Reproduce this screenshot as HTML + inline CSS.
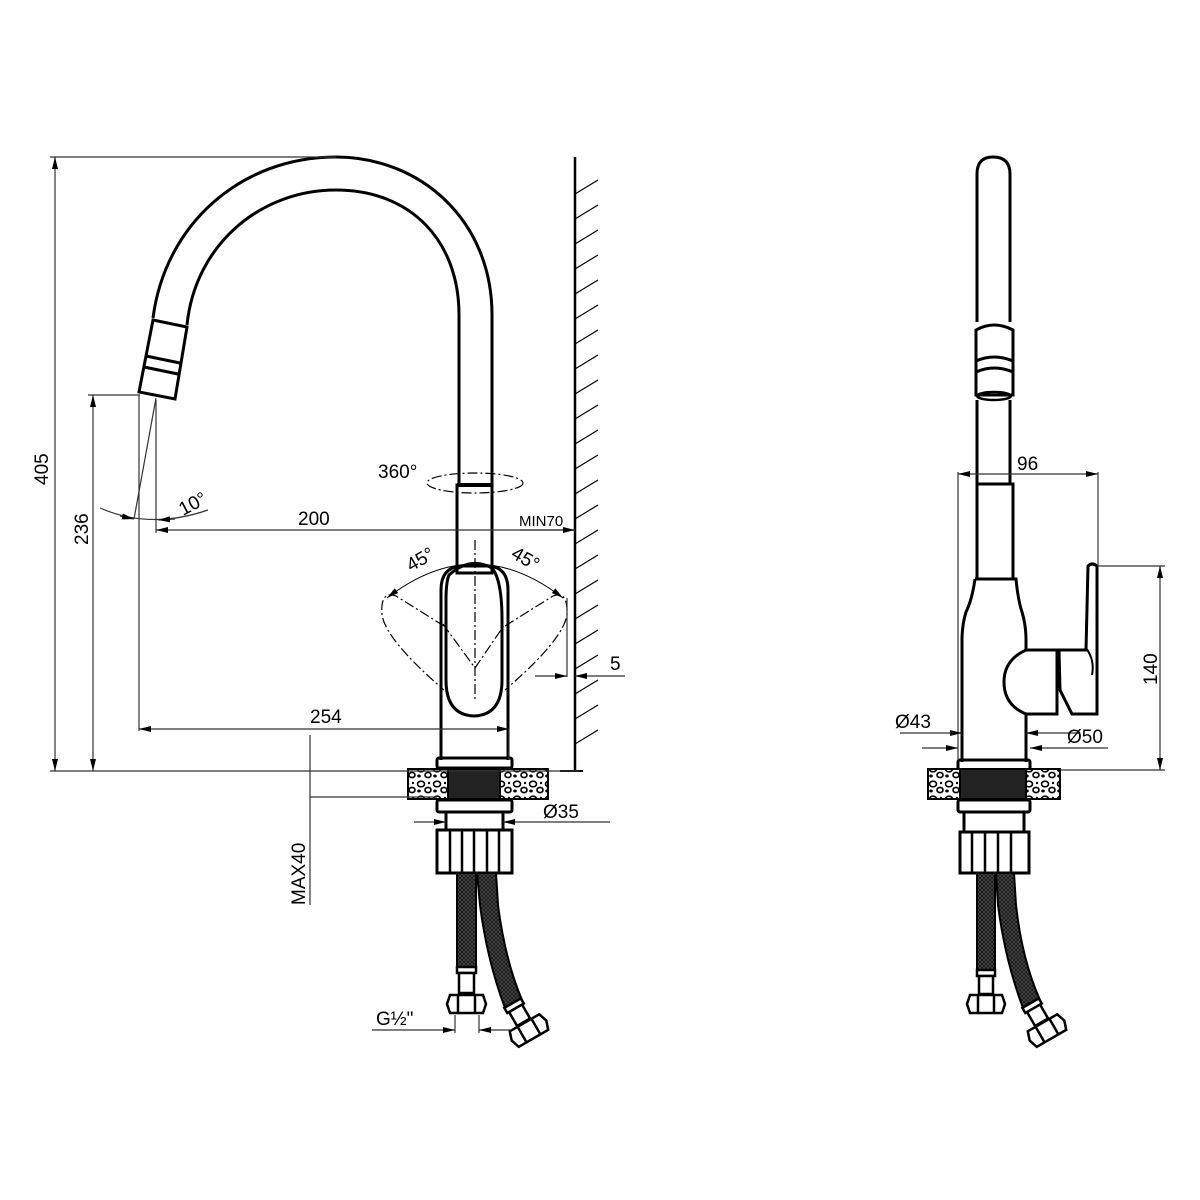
<!DOCTYPE html>
<html><head><meta charset="utf-8"><style>html,body{margin:0;padding:0;background:#fff}svg{display:block}text{font-family:"Liberation Sans",sans-serif;fill:#000}</style></head>
<body>
<svg width="1200" height="1200" viewBox="0 0 1200 1200" xmlns="http://www.w3.org/2000/svg">
<defs>
<marker id="a" viewBox="0 0 12 6" refX="12" refY="3" markerWidth="12" markerHeight="6" orient="auto-start-reverse" markerUnits="userSpaceOnUse"><path d="M0,0L12,3L0,6z" fill="#000"/></marker>
<pattern id="stone" width="16" height="15" patternUnits="userSpaceOnUse"><rect width="16" height="15" fill="#fff"/><ellipse cx="5" cy="4" rx="3.5" ry="2.8" fill="none" stroke="#000" stroke-width="1.6"/><ellipse cx="12" cy="10" rx="3" ry="2.6" fill="none" stroke="#000" stroke-width="1.6"/><ellipse cx="3" cy="11" rx="1.8" ry="1.5" fill="#000"/><circle cx="13" cy="3" r="1.2" fill="#000"/></pattern>
<pattern id="braid" width="4" height="4" patternUnits="userSpaceOnUse"><rect width="4" height="4" fill="#1a1a1a"/><path d="M0,0L4,4M4,0L0,4" stroke="#555" stroke-width="0.6"/></pattern>
</defs>

<!-- ================= LEFT VIEW ================= -->
<g fill="none" stroke="#000" stroke-width="3">
<path d="M492,485 L492,315 C492,220 420,157 336,157 C240,157 165,225 153,318"/>
<path d="M459,485 L459,315 C459,240 410,190 336,190 C260,190 195,245 187,325"/>
<path d="M153,320 L187,327 L175,399 L139,392 Z"/>
<path d="M146,356 L180,363 M144,367 L178,374"/>
<rect x="457" y="485" width="35" height="88"/>
<line x1="457" y1="485" x2="492" y2="485" stroke-width="4"/>
<path d="M441,760 L441,590 Q441,568 460,566 L490,566 Q508,568 508,590 L508,760"/>
<path d="M449,575 Q470,556 492,568 Q502,580 502,620 L502,680 Q502,715 474,716 Q446,715 446,680 L446,600 Q446,582 449,575 Z" stroke-width="3"/>
<rect x="437" y="758" width="75" height="10" rx="2"/>
<rect x="437" y="800" width="75" height="12" rx="2"/>
<rect x="446" y="812" width="57" height="18"/>
<rect x="437" y="830" width="75" height="43"/>
<path d="M450,830V873M462,830V873M474,830V873M487,830V873M499,830V873" stroke-width="2.5"/>
</g>
<rect x="408" y="769" width="40" height="30" fill="url(#stone)" stroke="#000" stroke-width="2"/>
<rect x="500" y="769" width="48" height="30" fill="url(#stone)" stroke="#000" stroke-width="2"/>
<rect x="448" y="769" width="52" height="30" fill="#222" stroke="#000" stroke-width="2"/>
<rect x="457" y="873" width="19" height="96" fill="url(#braid)" stroke="#000" stroke-width="2"/>
<path d="M477,873 L496,873 L498,905 Q505,960 522,1000 L505,1008 Q487,960 480,905 Z" fill="url(#braid)" stroke="#000" stroke-width="2"/>
<g fill="#fff" stroke="#000" stroke-width="2.5">
<rect x="457" y="967" width="19" height="6"/>
<rect x="459" y="973" width="15" height="20"/>
<path d="M450,995 L483,995 L486,1004 L483,1013 L450,1013 L447,1004 Z"/>
<path d="M458,995V1013M475,995V1013" fill="none"/>
<g transform="translate(520,1015) rotate(-30)">
<rect x="-10" y="-14" width="19" height="6"/>
<rect x="-8" y="-8" width="15" height="16"/>
<path d="M-17,9 L17,9 L20,18 L17,27 L-17,27 L-20,18 Z"/>
<path d="M-8,9V27M8,9V27" fill="none"/>
</g>
</g>

<g stroke="#000" fill="none">
<line x1="575" y1="157" x2="575" y2="771" stroke-width="2.5"/>
<line x1="560" y1="771" x2="583" y2="771" stroke-width="2"/>
<path stroke-width="1.2" d="M575,194L598,180M575,219L598,205M575,244L598,230M575,269L598,255M575,294L598,280M575,319L598,305M575,344L598,330M575,369L598,355M575,394L598,380M575,419L598,405M575,444L598,430M575,469L598,455M575,494L598,480M575,519L598,505M575,544L598,530M575,569L598,555M575,594L598,580M575,619L598,605M575,644L598,630M575,669L598,655M575,694L598,680M575,719L598,705M575,744L598,730"/>
</g>

<g fill="none" stroke="#000" stroke-width="1.2" stroke-dasharray="10,3,2,3">
<path d="M444,626 L396,596 Q380,590 382,615 Q386,640 444,690"/>
<path d="M505,626 L553,596 Q568,590 567,615 Q563,640 505,690"/>
<path d="M443,624 L475,668 L505,624" />
<path d="M475,540 L475,700"/>
<ellipse cx="475" cy="483" rx="48" ry="10"/>
</g>
<path d="M387,598 Q475,530 563,598" fill="none" stroke="#000" stroke-width="1" marker-start="url(#a)" marker-end="url(#a)"/>

<g stroke="#333" stroke-width="1.2" fill="none">
<line x1="50" y1="157" x2="336" y2="157"/>
<line x1="50" y1="771" x2="580" y2="771"/>
<line x1="55" y1="157" x2="55" y2="771" marker-start="url(#a)" marker-end="url(#a)"/>
<line x1="88" y1="395" x2="140" y2="395"/>
<line x1="93" y1="395" x2="93" y2="771" marker-start="url(#a)" marker-end="url(#a)"/>
<line x1="139" y1="395" x2="139" y2="731"/>
<line x1="139" y1="729" x2="509" y2="729" marker-start="url(#a)" marker-end="url(#a)"/>
<line x1="509" y1="729" x2="509" y2="760"/>
<line x1="156" y1="400" x2="156" y2="533"/>
<line x1="156" y1="530" x2="575" y2="530" marker-start="url(#a)"/>
<line x1="520" y1="530" x2="575" y2="530" marker-end="url(#a)"/>
<line x1="156" y1="398" x2="134" y2="519"/>
<path d="M100,508 Q150,530 208,510"/>
<line x1="120" y1="516" x2="134" y2="519" marker-end="url(#a)"/>
<line x1="175" y1="519" x2="158" y2="520" marker-end="url(#a)"/>
<line x1="567" y1="598" x2="567" y2="677"/>
<line x1="535" y1="676" x2="567" y2="676" marker-end="url(#a)"/>
<line x1="625" y1="676" x2="575" y2="676" marker-end="url(#a)"/>
<line x1="310" y1="735" x2="310" y2="905"/>
<line x1="310" y1="797" x2="437" y2="797"/>
<line x1="414" y1="822" x2="446" y2="822" marker-end="url(#a)"/>
<line x1="610" y1="822" x2="503" y2="822" marker-end="url(#a)"/>
<line x1="455" y1="1015" x2="455" y2="1033"/><line x1="479" y1="1015" x2="479" y2="1033"/>
<line x1="372" y1="1030" x2="455" y2="1030" marker-end="url(#a)"/>
<line x1="510" y1="1030" x2="479" y2="1030" marker-end="url(#a)"/>
</g>
<text x="0" y="0" font-size="19" transform="translate(48,485) rotate(-90)">405</text>
<text x="0" y="0" font-size="19" transform="translate(88,545) rotate(-90)">236</text>
<text x="0" y="0" font-size="19" transform="translate(305,905) rotate(-90)">MAX40</text>
<text x="298" y="525" font-size="19">200</text>
<text x="310" y="723" font-size="19">254</text>
<text x="378" y="478" font-size="19">360°</text>
<text x="0" y="0" font-size="19" transform="translate(183,516) rotate(-28)">10°</text>
<text x="0" y="0" font-size="19" transform="translate(411,572) rotate(-30)">45°</text>
<text x="0" y="0" font-size="19" transform="translate(510,557) rotate(30)">45°</text>
<text x="519" y="526" font-size="15">MIN70</text>
<text x="610" y="670" font-size="19">5</text>
<text x="543" y="818" font-size="19">Ø35</text>
<text x="376" y="1025" font-size="19">G½"</text>

<!-- ================= RIGHT VIEW ================= -->
<g fill="none" stroke="#000" stroke-width="3">
<path d="M977,322 L977,174 Q977,157 993,157 Q1010,157 1010,174 L1010,322"/>
<path d="M976,330 Q994,320 1013,330 L1013,395 L976,395 Z"/>
<path d="M976,361 Q994,353 1013,361 M976,372 Q994,364 1013,372"/>
<ellipse cx="994" cy="396" rx="17" ry="4" stroke-width="2.5"/>
<path d="M977,400 L977,484 M1010,400 L1010,484"/>
<rect x="977" y="484" width="36" height="95"/>
<path d="M975,579 L1016,579 Q1018,600 1022,612 Q1026,625 1026,640 L1026,762 M975,579 Q972,600 966,612 Q962,625 962,640 L962,762"/>
<path d="M1026,650 Q1004,660 1004,682 Q1004,705 1026,714 L1057,714 L1057,650 Z" fill="#fff"/>
<path d="M1059,650 L1086,650 L1088,566 Q1092,562 1097,566 L1097,714 L1072,714 L1060,690 Z" fill="#fff"/>
<path d="M1086,648 Q1095,660 1092,675" stroke-width="2"/>
<rect x="958" y="760" width="72" height="10" rx="2"/>
<rect x="958" y="800" width="72" height="12" rx="2"/>
<rect x="964" y="812" width="60" height="20"/>
<rect x="960" y="832" width="69" height="41"/>
<path d="M972,832V873M985,832V873M998,832V873M1011,832V873" stroke-width="2.5"/>
</g>
<rect x="928" y="769" width="32" height="30" fill="url(#stone)" stroke="#000" stroke-width="2"/>
<rect x="1026" y="769" width="34" height="30" fill="url(#stone)" stroke="#000" stroke-width="2"/>
<rect x="960" y="769" width="66" height="30" fill="#222" stroke="#000" stroke-width="2"/>
<rect x="977" y="873" width="18" height="97" fill="url(#braid)" stroke="#000" stroke-width="2"/>
<path d="M996,873 L1014,873 L1016,905 Q1022,960 1040,1000 L1023,1008 Q1005,960 998,905 Z" fill="url(#braid)" stroke="#000" stroke-width="2"/>
<g fill="#fff" stroke="#000" stroke-width="2.5">
<rect x="977" y="970" width="18" height="6"/>
<rect x="979" y="976" width="14" height="18"/>
<path d="M970,995 L1002,995 L1005,1004 L1002,1013 L970,1013 L967,1004 Z"/>
<path d="M978,995V1013M994,995V1013" fill="none"/>
<g transform="translate(1038,1015) rotate(-30)">
<rect x="-10" y="-14" width="19" height="6"/>
<rect x="-8" y="-8" width="15" height="16"/>
<path d="M-17,9 L17,9 L20,18 L17,27 L-17,27 L-20,18 Z"/>
<path d="M-8,9V27M8,9V27" fill="none"/>
</g>
</g>
<g stroke="#333" stroke-width="1.2" fill="none">
<line x1="958" y1="472" x2="958" y2="760"/>
<line x1="1098" y1="472" x2="1098" y2="566"/>
<line x1="958" y1="474" x2="1098" y2="474" marker-start="url(#a)" marker-end="url(#a)"/>
<line x1="1098" y1="566" x2="1165" y2="566"/>
<line x1="1060" y1="770" x2="1165" y2="770"/>
<line x1="1160" y1="566" x2="1160" y2="770" marker-start="url(#a)" marker-end="url(#a)"/>
<line x1="900" y1="733" x2="962" y2="733" marker-end="url(#a)"/>
<line x1="1080" y1="733" x2="1026" y2="733" marker-end="url(#a)"/>
<line x1="922" y1="748" x2="958" y2="748" marker-end="url(#a)"/>
<line x1="1108" y1="748" x2="1030" y2="748" marker-end="url(#a)"/>
</g>
<text x="1017" y="470" font-size="19">96</text>
<text x="0" y="0" font-size="19" transform="translate(1157,685) rotate(-90)">140</text>
<text x="895" y="728" font-size="19">Ø43</text>
<text x="1067" y="743" font-size="19">Ø50</text>
</svg>
</body></html>
